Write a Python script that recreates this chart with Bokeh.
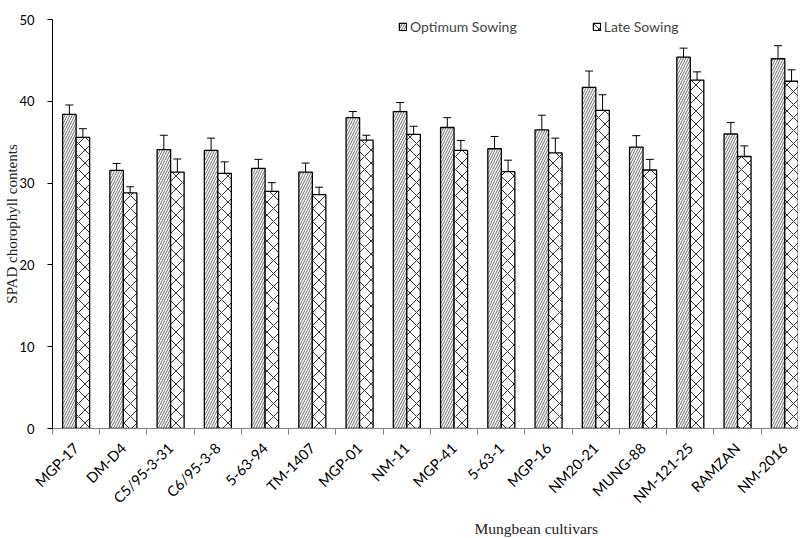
import numpy as np
from bokeh.plotting import figure
from bokeh.models import (ColumnDataSource, Range1d, FixedTicker, Whisker, TeeHead,
                          Legend, LegendItem, Title)
from bokeh.embed import file_html
from bokeh.resources import INLINE

cultivars = ["MGP-17", "DM-D4", "C5/95-3-31", "C6/95-3-8", "5-63-94", "TM-1407",
             "MGP-01", "NM-11", "MGP-41", "5-63-1", "MGP-16", "NM20-21",
             "MUNG-88", "NM-121-25", "RAMZAN", "NM-2016"]
optimum = [38.4, 31.55, 34.1, 34.0, 31.8, 31.35, 38.0, 38.75, 36.8, 34.2, 36.5, 41.7,
           34.4, 45.4, 36.0, 45.2]
optimum_err = [1.15, 0.85, 1.75, 1.5, 1.1, 1.1, 0.75, 1.1, 1.2, 1.5, 1.8, 2.0,
               1.4, 1.1, 1.4, 1.6]
late = [35.6, 28.8, 31.35, 31.2, 29.0, 28.6, 35.25, 35.95, 34.0, 31.4, 33.7, 38.9,
        31.6, 42.6, 33.25, 42.45]
late_err = [1.05, 0.75, 1.6, 1.4, 1.05, 0.9, 0.6, 1.0, 1.2, 1.4, 1.8, 1.9,
            1.3, 1.0, 1.3, 1.4]
y_ticks = [0, 10, 20, 30, 40, 50]

n = len(cultivars)
centers = np.arange(n) + 0.5
bw = 0.286
off = bw / 2

opt = np.array(optimum); opt_e = np.array(optimum_err)
lat = np.array(late); lat_e = np.array(late_err)

src_o = ColumnDataSource(dict(x=centers - off, top=opt, up=opt + opt_e, lo=opt - opt_e))
src_l = ColumnDataSource(dict(x=centers + off, top=lat, up=lat + lat_e, lo=lat - lat_e))

p = figure(width=798, height=538, output_backend="svg", toolbar_location=None,
           x_range=Range1d(0, 15.79), y_range=Range1d(0, 50),
           min_border_left=52, min_border_right=0, min_border_top=19, min_border_bottom=108)
p.outline_line_color = None
p.xgrid.visible = False
p.ygrid.visible = False

r_o = p.vbar(x="x", top="top", bottom=0, width=bw, source=src_o,
             fill_color="white", line_color="black", line_width=1.3,
             hatch_pattern="/", hatch_scale=5, hatch_weight=0.8, hatch_color="#444444")
r_l = p.vbar(x="x", top="top", bottom=0, width=bw, source=src_l,
             fill_color="white", line_color="black", line_width=1.3,
             hatch_pattern="x", hatch_scale=13, hatch_weight=1.0, hatch_color="#333333")

for src in (src_o, src_l):
    w = Whisker(base="x", upper="up", lower="lo", source=src, line_color="black", line_width=1,
                upper_head=TeeHead(size=8, line_color="black", line_width=1),
                lower_head=TeeHead(size=8, line_color="black", line_width=1))
    p.add_layout(w)

# axes
tick_font = "Lato"
p.yaxis.ticker = FixedTicker(ticks=y_ticks)
p.yaxis.axis_line_color = "black"
p.yaxis.major_tick_line_color = "black"
p.yaxis.major_tick_out = 5
p.yaxis.major_tick_in = 0
p.yaxis.minor_tick_line_color = None
p.yaxis.major_label_text_font = tick_font
p.yaxis.major_label_text_font_size = "13px"
p.yaxis.major_label_text_color = "black"
p.yaxis.major_label_standoff = 13
p.yaxis.axis_label = "SPAD chorophyll contents"
p.yaxis.axis_label_text_font = "Liberation Serif"
p.yaxis.axis_label_text_font_style = "normal"
p.yaxis.axis_label_text_font_size = "15px"
p.yaxis.axis_label_text_color = "#222222"
p.yaxis.axis_label_standoff = -4

p.xaxis.ticker = FixedTicker(ticks=list(centers), minor_ticks=list(range(n + 1)))
p.xaxis.major_label_overrides = {float(c): name for c, name in zip(centers, cultivars)}
p.xaxis.major_tick_line_color = None
p.xaxis.major_tick_out = 0
p.xaxis.minor_tick_line_color = "#808080"
p.xaxis.minor_tick_out = 6
p.xaxis.minor_tick_in = 0
p.xaxis.axis_line_color = "#808080"
p.xaxis.major_label_orientation = np.pi / 4
p.xaxis.major_label_text_font = tick_font
p.xaxis.major_label_text_font_size = "14.5px"
p.xaxis.major_label_text_color = "black"
p.xaxis.major_label_standoff = 11

xt = Title(text="Mungbean cultivars", align="left", offset=422, standoff=4,
           text_font="Liberation Serif", text_font_size="15.5px", text_font_style="normal",
           text_color="#222222")
p.add_layout(xt, "below")

legend = Legend(items=[LegendItem(label="Optimum Sowing", renderers=[r_o]),
                       LegendItem(label="Late Sowing", renderers=[r_l])],
                orientation="horizontal", location=(346, 393),
                glyph_width=9, glyph_height=9, label_standoff=3, spacing=75,
                padding=0, margin=0, label_text_font=tick_font, label_text_font_size="14px",
                label_height=12, border_line_color=None, background_fill_alpha=0)
p.add_layout(legend)

open("out.html", "w").write(file_html(p, INLINE))
